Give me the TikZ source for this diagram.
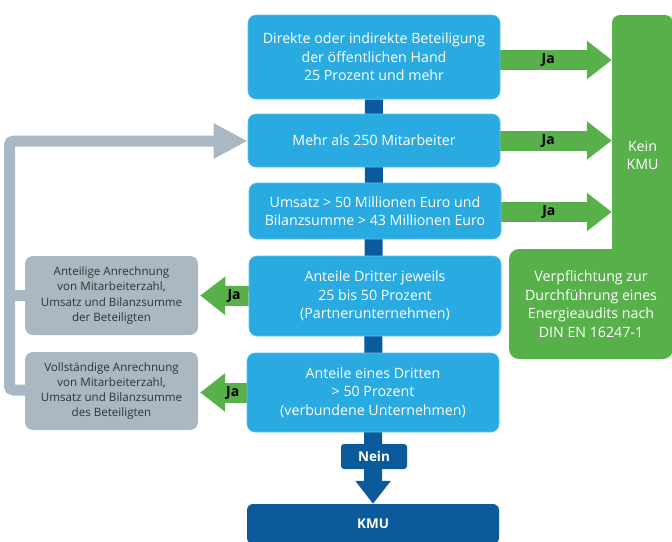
\documentclass[tikz,border=0pt]{standalone}
\usepackage{fontspec}
\setmainfont{Open Sans}
\usetikzlibrary{arrows.meta,backgrounds}
\definecolor{cblue}{HTML}{29ABE2}
\definecolor{cdark}{HTML}{0B5A9C}
\definecolor{cgreen}{HTML}{58B04B}
\definecolor{cgray}{HTML}{A9B8C2}
\definecolor{ctext}{HTML}{333333}
\begin{document}
\begin{tikzpicture}[x=1pt,y=-1pt,
  bluebox/.style={fill=cblue, draw=cblue!75!white, line width=0.6pt, rounded corners=8pt,
    minimum width=252pt, inner sep=0pt, text=white, align=center,
    font=\fontsize{14.2}{18.5}\selectfont},
  graybox/.style={fill=cgray, rounded corners=8pt, minimum width=173pt, inner sep=0pt,
    text=ctext, align=center, font=\fontsize{11.6}{15.3}\selectfont},
  greenbox/.style={fill=cgreen, inner sep=0pt, text=white, align=center,
    font=\fontsize{14.2}{18.5}\selectfont},
  darkbox/.style={fill=cdark, inner sep=0pt, text=white, align=center,
    font=\fontsize{13.5}{15}\selectfont\bfseries},
  garrow/.style={cgreen, line width=20pt, -{Triangle[width=37pt,length=25pt]}},
  ja/.style={text=black, font=\fontsize{14}{15}\selectfont\bfseries, inner sep=0pt},
  grayline/.style={cgray, line width=11pt},
  darkline/.style={cdark, line width=18pt, -{Triangle[width=34pt,length=23pt]}}]
\useasboundingbox (0,0) rectangle (672,541);

% blue decision boxes
\node[bluebox, minimum height=84pt] (b1) at (374,57) {Direkte oder indirekte Beteiligung\\der öffentlichen Hand\\25 Prozent und mehr};
\node[bluebox, minimum height=53pt] (b2) at (374,140.5) {Mehr als 250 Mitarbeiter};
\node[bluebox, minimum height=56pt] (b3) at (375,211) {Umsatz > 50 Millionen Euro und\\Bilanzsumme > 43 Millionen Euro};
\node[bluebox, minimum height=80pt] (b4) at (375,296) {Anteile Dritter jeweils\\25 bis 50 Prozent\\(Partnerunternehmen)};
\node[bluebox, minimum height=79pt] (b5) at (373,392.5) {Anteile eines Dritten\\> 50 Prozent\\(verbundene Unternehmen)};

% result boxes
\node[darkbox, rounded corners=6pt, minimum width=252pt, minimum height=40pt] (kmu) at (373,524) {KMU};
\node[darkbox, rounded corners=3pt, minimum width=66pt, minimum height=25pt] (nein) at (374,456.5) {Nein};
\node[greenbox, rounded corners=8pt, minimum width=61pt, minimum height=281pt] (kein) at (642.5,155.5) {Kein\\KMU};
\node[greenbox, rounded corners=10pt, minimum width=164pt, minimum height=110pt] (pf) at (591,304) {Verpflichtung zur\\Durchführung eines\\Energieaudits nach\\DIN EN 16247-1};

% gray boxes
\node[graybox, minimum height=79pt] (ga) at (111.5,295.5) {Anteilige Anrechnung\\von Mitarbeiterzahl,\\Umsatz und Bilanzsumme\\der Beteiligten};
\node[graybox, minimum height=78pt] (gb) at (111.5,391) {Vollständige Anrechnung\\von Mitarbeiterzahl,\\Umsatz und Bilanzsumme\\des Beteiligten};

\begin{scope}[on background layer]
  \draw[darkline] (b1.south) -- (kmu.north);
  \draw[grayline, rounded corners=4pt, -{Triangle[width=33pt,length=34pt]}]
    (gb.west |- 0,390) -- (9.5,390) -- (9.5,141) -- (b2.west |- 0,141);
  \draw[grayline] (ga.west) -- (9.5,295.5);
  \draw[garrow] ([yshift=-3pt]b1.east) -- ([yshift=-3pt]b1.east -| kein.west) node[ja, pos=0.43] {Ja};
  \draw[garrow] (b2.east) -- (b2.east -| kein.west) node[ja, pos=0.43] {Ja};
  \draw[garrow] ([yshift=-1pt]b3.east) -- ([yshift=-1pt]b3.east -| kein.west) node[ja, pos=0.43] {Ja};
  \draw[garrow] (b4.west) -- ([xshift=2pt]ga.east) node[ja, pos=0.3] {Ja};
  \draw[garrow] (b5.west) -- ([xshift=2pt]gb.east |- b5.west) node[ja, pos=0.3] {Ja};
\end{scope}
\end{tikzpicture}
\end{document}
